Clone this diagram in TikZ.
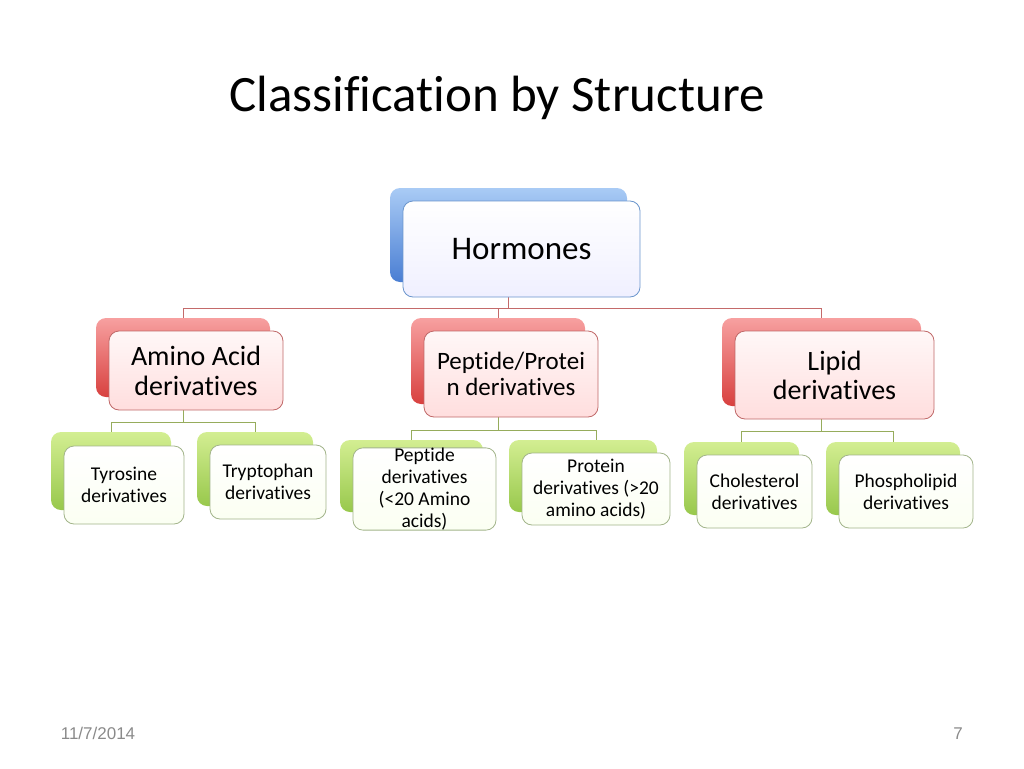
\documentclass[tikz,border=0pt]{standalone}
\usepackage{fontspec}
\setmainfont{Carlito}[RawFeature={-liga;-clig;-calt;-dlig}]
\newfontfamily\footfont{Liberation Sans}
\usetikzlibrary{backgrounds}
\definecolor{bluelt}{HTML}{A9CBF5}
\definecolor{bluedk}{HTML}{4A7ED3}
\definecolor{blueedge}{HTML}{6A95CC}
\definecolor{redlt}{HTML}{F7A0A0}
\definecolor{reddk}{HTML}{D8413F}
\definecolor{rededge}{HTML}{C06868}
\definecolor{grnlt}{HTML}{D3EE92}
\definecolor{grndk}{HTML}{98C84C}
\definecolor{grnedge}{HTML}{A2B48A}
\definecolor{redline}{HTML}{C46A6A}
\definecolor{grnline}{HTML}{96AC5C}
\definecolor{footgray}{HTML}{8A8A8A}
\tikzset{
  boxbase/.style={rounded corners=10pt, inner sep=0pt, align=center, text=black},
  blueback/.style={boxbase, top color=bluelt, bottom color=bluedk},
  bluefront/.style={boxbase, draw=blueedge, line width=0.8pt, top color=white, bottom color=blue!6!white, font=\fontsize{33}{38}\selectfont},
  redback/.style={boxbase, top color=redlt, bottom color=reddk},
  redfront/.style={boxbase, draw=rededge, line width=0.8pt, top color=red!3!white, bottom color=red!13!white},
  grnback/.style={boxbase, top color=grnlt, bottom color=grndk},
  grnfront/.style={boxbase, draw=grnedge, line width=0.8pt, top color=white, bottom color=green!30!yellow!5!white, font=\fontsize{19.5}{22}\selectfont},
  lvlone/.style={draw=redline, line width=1pt},
  lvltwo/.style={draw=grnline, line width=1pt},
  foottext/.style={font=\footfont\fontsize{17}{20}\selectfont, text=footgray, anchor=base},
}
\begin{document}
\begin{tikzpicture}[x=1pt,y=-1pt]
\useasboundingbox (0,0) rectangle (1024,768);
% title
\node[font=\fontsize{51}{60}\selectfont] (title) at (497,98) {Classification by Structure};
% Hormones
\node[blueback, minimum width=237pt, minimum height=94pt] (Hb) at (508.5,235) {};
\node[bluefront, minimum width=237pt, minimum height=96pt] (H) at (521.5,249) {Hormones};
% red level
\node[redback, minimum width=174pt, minimum height=79pt] (Ab) at (183,357.5) {};
\node[redfront, minimum width=174pt, minimum height=79pt, font=\fontsize{28}{30}\selectfont] (A) at (196,370.5) {Amino Acid\\derivatives};
\node[redback, minimum width=174pt, minimum height=86pt] (Pb) at (498,361) {};
\node[redfront, minimum width=174pt, minimum height=86pt, font=\fontsize{25}{26}\selectfont] (P) at (511,374) {Peptide/Protei\\n derivatives};
\node[redback, minimum width=199pt, minimum height=88pt] (Lb) at (821.5,362) {};
\node[redfront, minimum width=199pt, minimum height=88pt, font=\fontsize{28}{29}\selectfont] (L) at (834.5,375) {Lipid\\derivatives};
% green level
\node[grnback, minimum width=120pt, minimum height=78pt] (Tyb) at (111,471) {};
\node[grnfront, minimum width=120pt, minimum height=78pt] (Ty) at (124,485) {Tyrosine\\derivatives};
\node[grnback, minimum width=116pt, minimum height=74pt] (Trb) at (255,469) {};
\node[grnfront, minimum width=116pt, minimum height=74pt] (Tr) at (268,482) {Tryptophan\\derivatives};
\node[grnback, minimum width=143pt, minimum height=72pt] (Pdb) at (411.5,476) {};
\node[grnfront, minimum width=143pt, minimum height=72pt] (Pd) at (424.5,489) {Peptide\\derivatives\\(<20 Amino\\acids)};
\node[grnback, minimum width=148pt, minimum height=72pt] (Prb) at (583,476) {};
\node[grnfront, minimum width=148pt, minimum height=72pt] (Pr) at (596,489) {Protein\\derivatives (>20\\amino acids)};
\node[grnback, minimum width=115pt, minimum height=73pt] (Chb) at (741.5,478.5) {};
\node[grnfront, minimum width=115pt, minimum height=73pt] (Ch) at (754.5,491.5) {Cholesterol\\derivatives};
\node[grnback, minimum width=134pt, minimum height=73pt] (Phb) at (893,478.5) {};
\node[grnfront, minimum width=134pt, minimum height=73pt] (Ph) at (906,491.5) {Phospholipid\\derivatives};
% footer
\node[foottext] (date) at (98,739) {11/7/2014};
\node[foottext] (num) at (958,739) {7};
% connectors
\begin{pgfonlayer}{background}
\coordinate (l1) at (0,308);
\coordinate (g1) at (0,422);
\coordinate (g2) at (0,430);
\coordinate (g3) at (0,431);
\draw[lvlone] (Hb.center) -- (Hb.center |- l1) -- (Pb.center |- l1) -- (Pb.center);
\draw[lvlone] (Ab.center) -- (Ab.center |- l1) -- (Lb.center |- l1) -- (Lb.center);
\draw[lvltwo] (Ab.center) -- (Ab.center |- g1);
\draw[lvltwo] (Tyb.center) -- (Tyb.center |- g1) -- (Trb.center |- g1) -- (Trb.center);
\draw[lvltwo] (Pb.center) -- (Pb.center |- g2);
\draw[lvltwo] (Pdb.center) -- (Pdb.center |- g2) -- (Pr.center |- g2) -- (Pr.center);
\draw[lvltwo] (Lb.center) -- (Lb.center |- g3);
\draw[lvltwo] (Chb.center) -- (Chb.center |- g3) -- (Phb.center |- g3) -- (Phb.center);
\end{pgfonlayer}
\end{tikzpicture}
\end{document}
